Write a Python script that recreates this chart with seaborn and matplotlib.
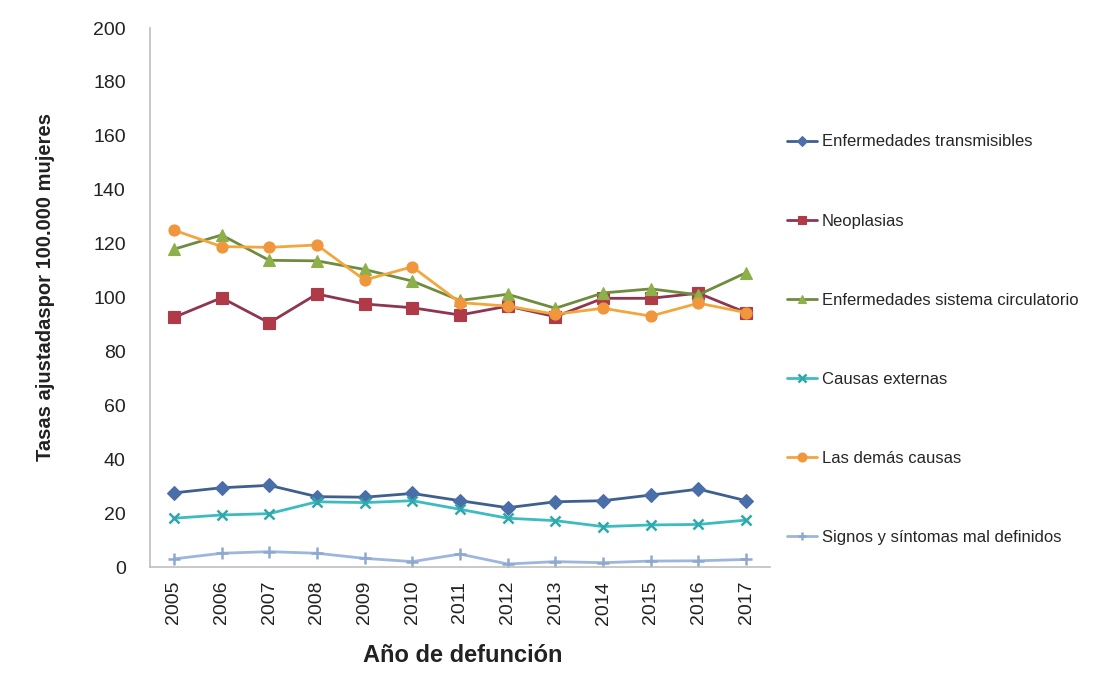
import matplotlib
matplotlib.use("Agg")
import matplotlib.pyplot as plt
from matplotlib import font_manager
import seaborn as sns
import numpy as np
import pandas as pd

years = ["2005", "2006", "2007", "2008", "2009", "2010", "2011",
         "2012", "2013", "2014", "2015", "2016", "2017"]

transmisibles = [27.5, 29.4, 30.3, 26.1, 25.9, 27.3, 24.6, 22.0, 24.2, 24.6, 26.7, 28.9, 24.6]
neoplasias = [92.6, 99.9, 90.6, 101.3, 97.6, 96.2, 93.5, 96.8, 92.9, 99.7, 99.7, 101.6, 94.4]
circulatorio = [117.9, 123.2, 113.8, 113.6, 110.4, 106.1, 98.9, 101.2, 96.0, 101.7, 103.2, 101.0, 109.2]
externas = [18.1, 19.3, 19.8, 24.2, 23.9, 24.6, 21.4, 18.1, 17.2, 15.0, 15.6, 15.8, 17.4]
demas = [125.0, 118.9, 118.6, 119.5, 106.5, 111.4, 98.1, 96.8, 93.8, 96.0, 93.1, 97.9, 94.4]
signos = [3.0, 5.1, 5.7, 5.1, 3.2, 2.0, 4.8, 1.1, 2.0, 1.6, 2.2, 2.3, 2.8]

series_names = ["Enfermedades transmisibles", "Neoplasias",
                "Enfermedades sistema circulatorio", "Causas externas",
                "Las demás causas", "Signos y síntomas mal definidos"]
series_values = [transmisibles, neoplasias, circulatorio, externas, demas, signos]

y_ticks = [0, 20, 40, 60, 80, 100, 120, 140, 160, 180, 200]

# (line colour, marker colour, marker, marker size)
styles = {
    "Enfermedades transmisibles": ("#3f5f8f", "#4a6fa8", "D", 7),
    "Neoplasias": ("#8e3550", "#b03a48", "s", 8),
    "Enfermedades sistema circulatorio": ("#6f8c3e", "#8db04a", "^", 8),
    "Causas externas": ("#3cbcbf", "#2fa7ab", "x", 7),
    "Las demás causas": ("#f2a63e", "#f0963c", "o", 8),
    "Signos y síntomas mal definidos": ("#9db6dd", "#8fa8d0", "+", 8),
}

rows = []
for name, vals in zip(series_names, series_values):
    for i, v in enumerate(vals):
        rows.append({"serie": name, "pos": i, "tasa": v})
df = pd.DataFrame(rows)

sns.set_theme(style="white")
plt.rcParams["font.family"] = ["Liberation Sans", "DejaVu Sans"]

installed = {f.name for f in font_manager.fontManager.ttflist}
if "Liberation Sans Narrow" in installed:
    ylabel_font, ylabel_size = ["Liberation Sans Narrow", "Liberation Sans"], 16.5
else:
    ylabel_font, ylabel_size = ["Liberation Sans", "DejaVu Sans"], 14.5

fig = plt.figure(figsize=(10.99, 6.75), dpi=100)
ax = fig.add_axes([0.1365, 0.16, 0.5641, 0.7985])

for name in series_names:
    lc, mc, mk, ms = styles[name]
    sub = df[df["serie"] == name]
    sns.lineplot(data=sub, x="pos", y="tasa", ax=ax, color=lc, linewidth=2,
                 marker=mk, markersize=ms, markerfacecolor=mc,
                 markeredgecolor=mc, markeredgewidth=1.8 if mk in ("x", "+") else 0.8,
                 label=name, legend=False)

ax.set_xlim(-0.5, len(years) - 0.5)
ax.set_ylim(0, 200)
ax.set_yticks(y_ticks)
ax.set_yticklabels([str(t) for t in y_ticks], fontsize=14)
ax.set_xticks(range(len(years)))
ax.set_xticklabels(years, rotation=90, fontsize=14)
ax.set_xticks(np.arange(-0.5, len(years), 1.0), minor=True)
ax.tick_params(axis="x", which="major", length=0, pad=10)
ax.tick_params(axis="x", which="minor", length=5, color="#bfbfbf", width=1, direction="out")
ax.tick_params(axis="y", which="major", length=5, color="#bfbfbf", width=1, direction="out", pad=12.5)
for lbl in ax.get_yticklabels() + ax.get_xticklabels():
    lbl.set_color("#222222")

for side in ("top", "right"):
    ax.spines[side].set_visible(False)
for side in ("left", "bottom"):
    ax.spines[side].set_color("#bfbfbf")
    ax.spines[side].set_linewidth(1.2)
ax.grid(False)

ax.set_xlabel("Año de defunción", fontsize=17, fontweight="bold", color="#222222")
ax.xaxis.set_label_coords(0.505, -0.142)
ax.set_ylabel("Tasas ajustadaspor 100.000 mujeres", fontsize=ylabel_size, fontweight="bold",
              color="#222222", family=ylabel_font)
ax.yaxis.set_label_coords(-0.153, 0.52)

handles, labels = ax.get_legend_handles_labels()
fig.legend(handles, labels, loc="upper left", bbox_to_anchor=(0.7025, 0.823),
           frameon=False, fontsize=12, handlelength=1.8, handletextpad=0.3,
           labelspacing=3.85, markerscale=0.8)

fig.savefig("out.png", dpi=100, facecolor="white")
